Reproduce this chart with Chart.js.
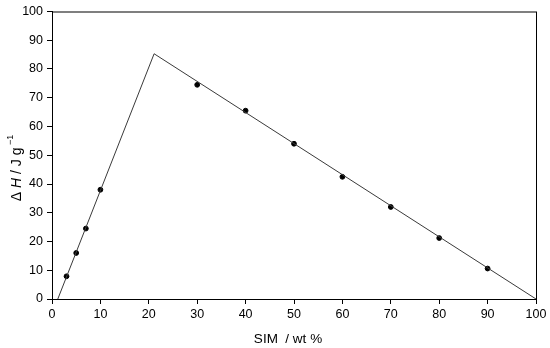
<!DOCTYPE html>
<html>
<head>
<meta charset="utf-8">
<script src="https://cdn.jsdelivr.net/npm/chart.js@4/dist/chart.umd.min.js"></script>
<style>
  html,body{margin:0;padding:0;background:#fff;}
  #wrap{width:550px;height:348px;position:relative;}
</style>
</head>
<body>
<div id="wrap"><canvas id="c"></canvas></div>
<script>
// measured points
const simPct = [3, 5, 7, 10, 30, 40, 50, 60, 70, 80, 90];
const deltaH = [7.9, 16, 24.5, 38, 74.5, 65.5, 54, 42.5, 32, 21.2, 10.6];
// fitted lines (ends and peak)
const fitX = [1.2, 21.1, 100];
const fitY = [0, 85.3, 0];

const FONT = '"Liberation Sans", Arial, sans-serif';

const frame = {
  id: 'frame',
  afterDraw(chart){
    const {ctx, chartArea:a} = chart;
    ctx.save();
    ctx.strokeStyle = '#000';
    ctx.lineWidth = 1;
    ctx.strokeRect(a.left + 0.5, a.top + 0.5, a.right - a.left, a.bottom - a.top);

    // x title
    ctx.fillStyle = '#000';
    ctx.font = '13.5px ' + FONT;
    ctx.textAlign = 'center';
    ctx.textBaseline = 'middle';
    ctx.fillText('SIM  / wt %', 288, 339);

    // y title, with italic H and superscript
    ctx.translate(17, 168);
    ctx.rotate(-Math.PI/2);
    const parts = [
      ['Δ ', '14px ' + FONT, 0],
      ['H', 'italic 14px ' + FONT, 0],
      [' / J g', '14px ' + FONT, 0],
      [' −1', '9px ' + FONT, -6]
    ];
    let w = 0;
    parts.forEach(p => { ctx.font = p[1]; w += ctx.measureText(p[0]).width; });
    let x = -w/2;
    ctx.textAlign = 'left';
    parts.forEach(p => {
      ctx.font = p[1];
      ctx.fillText(p[0], x, p[2]);
      x += ctx.measureText(p[0]).width;
    });
    ctx.restore();
  }
};

new Chart(document.getElementById('c'), {
  type: 'scatter',
  data: {
    datasets: [
      {
        data: fitX.map((x,i) => ({x, y: fitY[i]})),
        showLine: true,
        borderColor: '#3a3a3a',
        borderWidth: 1,
        pointRadius: 0,
        tension: 0
      },
      {
        data: simPct.map((x,i) => ({x, y: deltaH[i]})),
        backgroundColor: '#000',
        borderColor: '#000',
        pointRadius: 2.4,
        pointHoverRadius: 2.4
      }
    ]
  },
  options: {
    responsive: true,
    maintainAspectRatio: false,
    animation: false,
    events: [],
    layout: { padding: { left: 0, top: 8, right: 14, bottom: 0 } },
    plugins: { legend: { display: false }, tooltip: { enabled: false } },
    scales: {
      x: {
        type: 'linear',
        min: 0, max: 100,
        afterFit(s){ s.height = 49; },
        grid: { drawOnChartArea: false, drawTicks: true, tickLength: 5, color: '#000' },
        border: { display: true, color: '#000', width: 1 },
        ticks: { stepSize: 10, color: '#000', padding: 3, font: { family: FONT, size: 12.5 } }
      },
      y: {
        min: 0, max: 100,
        afterFit(s){ s.width = 52; },
        grid: { drawOnChartArea: false, drawTicks: true, tickLength: 5, color: '#000' },
        border: { display: true, color: '#000', width: 1 },
        ticks: { stepSize: 10, color: '#000', padding: 4, font: { family: FONT, size: 12.5 } }
      }
    }
  },
  plugins: [frame]
});
</script>
</body>
</html>
